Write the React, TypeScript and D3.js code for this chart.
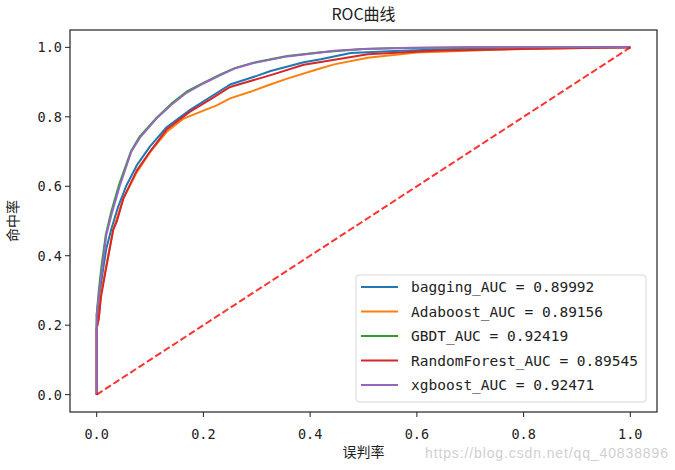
import * as d3 from "d3";

// ROC points: [fpr, tpr]
const bagging: [number, number][] = [
  [0, 0], [0, 0.2], [0.004, 0.26], [0.01, 0.34], [0.018, 0.42], [0.028, 0.48], [0.04, 0.54],
  [0.055, 0.6], [0.075, 0.66], [0.1, 0.715], [0.131, 0.77], [0.175, 0.82], [0.213, 0.857],
  [0.25, 0.893], [0.3, 0.918], [0.326, 0.932], [0.388, 0.957], [0.42, 0.966], [0.476, 0.984],
  [0.57, 0.99], [0.7, 0.997], [1, 1],
];
const adaboost: [number, number][] = [
  [0, 0], [0, 0.19], [0.004, 0.22], [0.008, 0.29], [0.016, 0.355], [0.031, 0.475], [0.05, 0.565],
  [0.075, 0.64], [0.1, 0.698], [0.132, 0.758], [0.163, 0.795], [0.2, 0.818], [0.225, 0.833],
  [0.25, 0.853], [0.288, 0.872], [0.32, 0.89], [0.357, 0.91], [0.42, 0.94], [0.445, 0.951],
  [0.508, 0.97], [0.6, 0.985], [0.76, 0.994], [1, 1],
];
const gbdt: [number, number][] = [
  [0, 0], [0, 0.23], [0.004, 0.3], [0.009, 0.37], [0.017, 0.46], [0.027, 0.525], [0.042, 0.605],
  [0.064, 0.7], [0.08, 0.742], [0.112, 0.797], [0.14, 0.838], [0.169, 0.873],
  [0.2, 0.898], [0.232, 0.922], [0.26, 0.941], [0.294, 0.956], [0.357, 0.975], [0.42, 0.986],
  [0.5, 0.995], [0.57, 0.998], [0.7, 1], [1, 1],
];
const randomForest: [number, number][] = [
  [0, 0], [0, 0.19], [0.004, 0.22], [0.008, 0.28], [0.016, 0.35], [0.031, 0.475], [0.038, 0.5],
  [0.05, 0.565], [0.075, 0.645], [0.1, 0.7], [0.132, 0.765], [0.175, 0.815], [0.213, 0.85],
  [0.25, 0.886], [0.326, 0.92], [0.388, 0.95], [0.42, 0.958], [0.508, 0.98], [0.633, 0.99],
  [0.82, 0.996], [1, 1],
];
const xgboost: [number, number][] = [
  [0, 0], [0, 0.23], [0.005, 0.3], [0.01, 0.36], [0.018, 0.46], [0.028, 0.52], [0.043, 0.6],
  [0.065, 0.7], [0.081, 0.74], [0.112, 0.795], [0.14, 0.835], [0.169, 0.87],
  [0.2, 0.896], [0.232, 0.92], [0.26, 0.94], [0.294, 0.955], [0.357, 0.974], [0.42, 0.985],
  [0.445, 0.99], [0.5, 0.995], [0.57, 0.998], [0.7, 1], [1, 1],
];

const seriesNames = ["bagging", "Adaboost", "GBDT", "RandomForest", "xgboost"];
const seriesAuc = ["0.89992", "0.89156", "0.92419", "0.89545", "0.92471"];
const seriesColors = ["#1f77b4", "#ff7f0e", "#2ca02c", "#d62728", "#9467bd"];
const seriesData = [bagging, adaboost, gbdt, randomForest, xgboost];
const diagonal: [number, number][] = [[0, 0], [1, 1]];
const ticks = [0, 0.2, 0.4, 0.6, 0.8, 1.0];

const W = 675;
const H = 470;
const FRAME = { left: 70, right: 657, top: 30, bottom: 412 };
const MONO = "'DejaVu Sans Mono', 'Noto Sans CJK SC', monospace";
const CJK = "'Noto Sans CJK SC', sans-serif";

export default function App() {
  const pad = 0.05;
  const x = d3.scaleLinear().domain([-pad, 1 + pad]).range([FRAME.left, FRAME.right]);
  const y = d3.scaleLinear().domain([-pad, 1 + pad]).range([FRAME.bottom, FRAME.top]);
  const line = d3.line<[number, number]>().x((d) => x(d[0])).y((d) => y(d[1]));

  const legend = { left: 356, top: 275, right: 646, bottom: 402 };
  const rowY = (i: number) => legend.top + 12 + i * 24.5;

  return (
    <svg width={W} height={H} style={{ position: "absolute", left: 0, top: 0, background: "#fff" }}>
      <rect width={W} height={H} fill="#fff" />
      <text x={(FRAME.left + FRAME.right) / 2} y={20} textAnchor="middle" fontFamily={CJK} fontSize={16} fill="#222">
        ROC曲线
      </text>

      {seriesData.map((d, i) => (
        <path key={seriesNames[i]} d={line(d) ?? ""} fill="none" stroke={seriesColors[i]} strokeWidth={2} strokeLinejoin="round" />
      ))}
      <path d={line(diagonal) ?? ""} fill="none" stroke="red" strokeOpacity={0.8} strokeWidth={2} strokeDasharray="7,3" />

      <rect
        x={FRAME.left}
        y={FRAME.top}
        width={FRAME.right - FRAME.left}
        height={FRAME.bottom - FRAME.top}
        fill="none"
        stroke="#222"
        strokeWidth={1.2}
      />

      {ticks.map((t) => (
        <g key={"x" + t}>
          <line x1={x(t)} x2={x(t)} y1={FRAME.bottom} y2={FRAME.bottom + 5} stroke="#222" />
          <text x={x(t)} y={FRAME.bottom + 27} textAnchor="middle" fontFamily={MONO} fontSize={13.5} fill="#222">
            {t.toFixed(1)}
          </text>
        </g>
      ))}
      {ticks.map((t) => (
        <g key={"y" + t}>
          <line x1={FRAME.left - 5} x2={FRAME.left} y1={y(t)} y2={y(t)} stroke="#222" />
          <text x={FRAME.left - 8} y={y(t) + 5} textAnchor="end" fontFamily={MONO} fontSize={13.5} fill="#222">
            {t.toFixed(1)}
          </text>
        </g>
      ))}

      <text x={(FRAME.left + FRAME.right) / 2} y={457} textAnchor="middle" fontFamily={CJK} fontSize={14} fill="#222">
        误判率
      </text>
      <text
        transform={`translate(18,${(FRAME.top + FRAME.bottom) / 2}) rotate(-90)`}
        textAnchor="middle"
        fontFamily={CJK}
        fontSize={14}
        fill="#222"
      >
        命中率
      </text>

      <rect
        x={legend.left}
        y={legend.top}
        width={legend.right - legend.left}
        height={legend.bottom - legend.top}
        rx={3}
        fill="#fff"
        fillOpacity={0.8}
        stroke="#d6d6d6"
      />
      {seriesNames.map((name, i) => (
        <g key={"lg" + name}>
          <line x1={361} x2={398} y1={rowY(i)} y2={rowY(i)} stroke={seriesColors[i]} strokeWidth={2} />
          <text x={411} y={rowY(i) + 5} fontFamily={MONO} fontSize={14.5} fill="#222">
            {`${name}_AUC = ${seriesAuc[i]}`}
          </text>
        </g>
      ))}

      <text x={425} y={458} fontFamily="'Liberation Sans', Arial, sans-serif" fontSize={14} fill="#d0d0d0" textLength={243}>
        https://blog.csdn.net/qq_40838896
      </text>
    </svg>
  );
}
